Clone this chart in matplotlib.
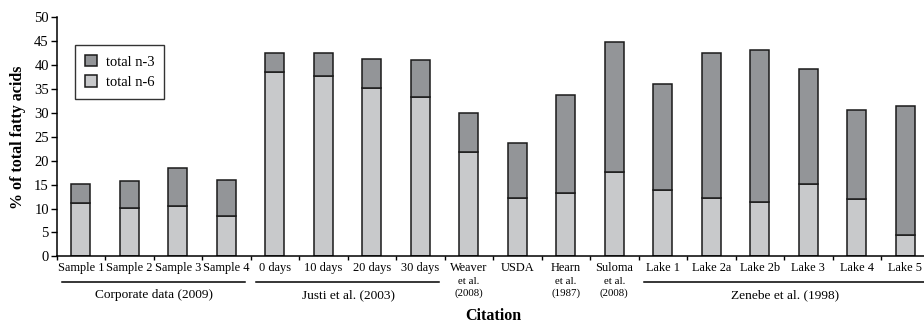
import matplotlib
matplotlib.use("Agg")
import matplotlib.pyplot as plt
import matplotlib.transforms as mtransforms
import numpy as np

categories = ["Sample 1", "Sample 2", "Sample 3", "Sample 4",
              "0 days", "10 days", "20 days", "30 days",
              "Weaver", "USDA", "Hearn", "Suloma",
              "Lake 1", "Lake 2a", "Lake 2b", "Lake 3", "Lake 4", "Lake 5"]
n6 = [11.1, 10.1, 10.5, 8.4, 38.6, 37.7, 35.2, 33.4, 21.9, 12.3, 13.2, 17.7,
      13.9, 12.3, 11.4, 15.2, 11.9, 4.4]
n3 = [4.1, 5.65, 8.0, 7.6, 3.9, 4.9, 6.1, 7.7, 8.1, 11.4, 20.6, 27.1,
      22.1, 30.2, 31.8, 24.0, 18.7, 27.0]
sub_labels = {"Weaver": ("et al.", "(2008)"),
              "Hearn": ("et al.", "(1987)"),
              "Suloma": ("et al.", "(2008)")}
groups = [("Corporate data (2009)", 0, 3), ("Justi et al. (2003)", 4, 7),
          ("Zenebe et al. (1998)", 12, 17)]
yticks = [0, 5, 10, 15, 20, 25, 30, 35, 40, 45, 50]

plt.rcParams['font.family'] = ['Liberation Serif', 'DejaVu Serif']

W, H = 924, 325
fig = plt.figure(figsize=(W / 100, H / 100), dpi=100)
left = 56.5 / W
bottom = (H - 256.3) / H
top = (H - 17.3) / H
width = (929.5 - 56.5) / W
ax = fig.add_axes([left, bottom, width, top - bottom])

x = np.arange(len(categories))
c3 = "#939598"
c6 = "#c8c9cb"
ec = "#1a1a1a"
ax.bar(x, n6, width=0.4, color=c6, edgecolor=ec, linewidth=1.1, label="total n-6", zorder=2)
ax.bar(x, n3, width=0.4, bottom=n6, color=c3, edgecolor=ec, linewidth=1.1, label="total n-3", zorder=2)

ax.set_xlim(-0.5, len(categories) - 0.5)
ax.set_ylim(0, 50)
ax.set_yticks(yticks)
ax.tick_params(axis='y', direction='out', length=4, width=1, labelsize=10.5, pad=1.5)
ax.set_xticks(np.arange(len(categories) + 1) - 0.5)
ax.set_xticklabels([])
ax.tick_params(axis='x', direction='out', length=3, width=1)
for s in ["top", "right"]:
    ax.spines[s].set_visible(False)
for s in ["left", "bottom"]:
    ax.spines[s].set_linewidth(1.1)

bt = mtransforms.blended_transform_factory(ax.transData, fig.transFigure)
for i, c in enumerate(categories):
    ax.text(i, (H - 268) / H, c, transform=bt, ha='center', va='center', fontsize=8.9)
    if c in sub_labels:
        a, b = sub_labels[c]
        ax.text(i, (H - 281.5) / H, a, transform=bt, ha='center', va='center', fontsize=7.8)
        ax.text(i, (H - 293) / H, b, transform=bt, ha='center', va='center', fontsize=7.8)

for name, i0, i1 in groups:
    x0 = i0 - 0.39
    x1 = i1 + 0.39 if i1 < len(categories) - 1 else len(categories) - 0.5
    ax.plot([x0, x1], [(H - 282) / H] * 2, transform=bt, color='black', lw=1.1, clip_on=False)
    ax.text((i0 + i1) / 2 + 0.02, (H - 295) / H, name, transform=bt, ha='center', va='center',
            fontsize=9.6)

fig.text((80.8 + 8.5 * 48.5) / W, (H - 316) / H, "Citation", ha='center', va='center',
         fontsize=11.5, fontweight='bold')
fig.text(18 / W, (H - 137) / H, "% of total fatty acids", rotation=90, ha='center', va='center',
         fontsize=11.5, fontweight='bold')

handles, labels = ax.get_legend_handles_labels()
leg = fig.legend(handles[::-1], labels[::-1], loc='upper left',
                 bbox_to_anchor=(75 / W, 1 - 45 / H), bbox_transform=fig.transFigure,
                 borderaxespad=0, fancybox=False, frameon=True, fontsize=10.5,
                 handlelength=0.8, handleheight=0.8, handletextpad=0.6,
                 borderpad=0.7, labelspacing=0.45)
leg.get_frame().set_edgecolor('black')
leg.get_frame().set_linewidth(1.0)

fig.savefig("out.png", dpi=100)
